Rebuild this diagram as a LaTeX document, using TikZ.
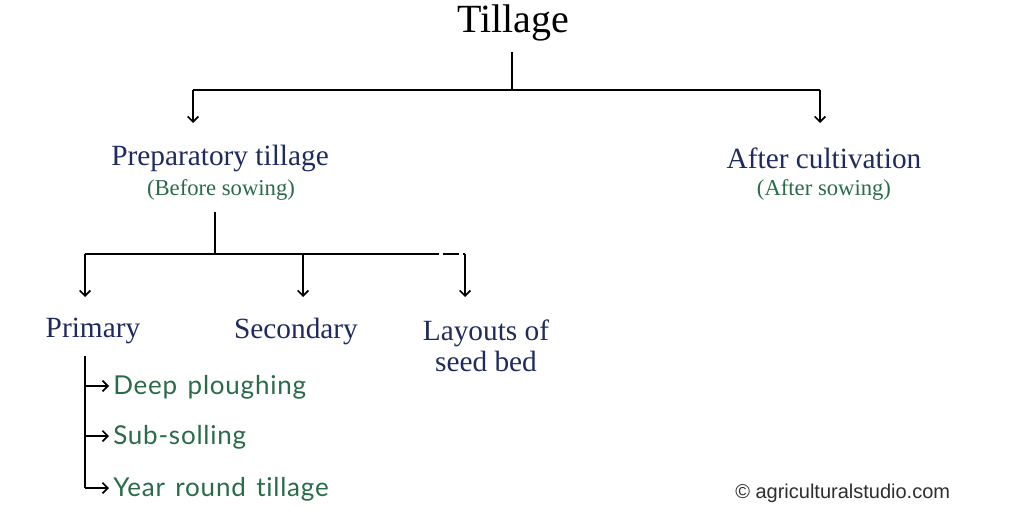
\documentclass[tikz,border=0pt]{standalone}
\usepackage{fontspec}
\setmainfont{Liberation Serif}
\newfontfamily\listfont[LetterSpace=3,Ligatures=NoCommon,WordSpace=1.4]{Lato}
\newfontfamily\markfont{Liberation Sans}
\usetikzlibrary{arrows.meta}
\definecolor{navy}{HTML}{1F2B5E}
\definecolor{leaf}{HTML}{2A6B4A}
\definecolor{mark}{HTML}{2E2E2E}
\tikzset{
  conn/.style={line width=1.3pt, black},
  arr/.style={conn, -{Straight Barb[length=4pt,width=8pt]}},
  head/.style={inner sep=0pt, text=navy, font=\fontsize{22}{24}\selectfont},
  sub/.style={inner sep=0pt, text=leaf, font=\fontsize{17}{19}\selectfont},
  item/.style={inner sep=0pt, anchor=west, text=leaf, font=\listfont\fontsize{19.5}{21}\selectfont},
}
\begin{document}
\begin{tikzpicture}[x=0.75pt,y=-0.75pt]
\useasboundingbox[fill=white] (0,0) rectangle (1024,527);
% level 0
\node[inner sep=0pt, font=\fontsize{30}{32}\selectfont] (till) at (513,23) {Tillage};
\coordinate (j0) at (512,90);
\coordinate (l0) at (193,90);
\coordinate (r0) at (820,90);
\node[head] (prep) at (220,158) {Preparatory tillage};
\node[sub] (before) at (221,190) {(Before sowing)};
\node[head] (after) at (824,158) {After cultivation};
\node[sub] (aft) at (824,190) {(After sowing)};
\draw[conn] (512,52) -- (j0);
\draw[conn] (l0) -- (r0);
\draw[arr] (l0) -- (193,123);
\draw[arr] (r0) -- (820,123);
% level 1
\coordinate (j1) at (215,254);
\coordinate (a1) at (85,254);
\coordinate (b1) at (303,254);
\coordinate (d1) at (423,254);
\coordinate (c1) at (465,254);
\draw[conn] (215,212) -- (j1);
\draw[conn] (a1) -- (d1);
\draw[conn, dash pattern=on 12pt off 3pt] (d1) -- (c1);
\draw[arr] (a1) -- (85,297);
\draw[arr] (b1) -- (303,297);
\draw[arr] (c1) -- (465,297);
\node[head] (prim) at (93,331) {Primary};
\node[head] (sec) at (296,331) {Secondary};
\node[head, align=center] (lay) at (486,346) {Layouts of\\[-1pt] seed bed};
% level 2
\coordinate (p0) at (85,356);
\coordinate (p1) at (85,386);
\coordinate (p2) at (85,436);
\coordinate (p3) at (85,488);
\draw[conn] (p0) -- (p3);
\node[item] (deep) at (113,387) {Deep ploughing};
\node[item] (subs) at (113,437) {Sub-solling};
\node[item] (year) at (113,489) {Year round tillage};
\draw[arr] (p1) -- (109,386);
\draw[arr] (p2) -- (109,436);
\draw[arr] (p3) -- (109,488);
% watermark
\node[inner sep=0pt, anchor=west, text=mark, font=\markfont\fontsize{15}{17}\selectfont] (wm) at (735,493) {\textcopyright{} agriculturalstudio.com};
\end{tikzpicture}
\end{document}
